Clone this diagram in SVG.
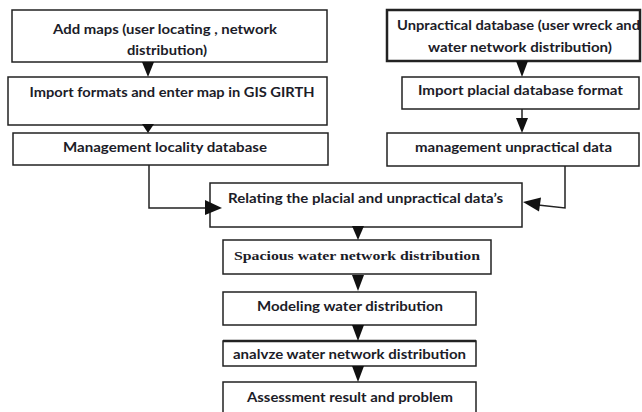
<svg xmlns="http://www.w3.org/2000/svg" width="642" height="412" viewBox="0 0 642 412">
<style>
.box{fill:#fff;stroke:#222;stroke-width:1.5}
.thick{stroke-width:2.5}
.t{font-family:Lato,"Liberation Sans",sans-serif;font-weight:bold;font-size:12.5px;fill:#1c1c28;text-anchor:middle}
.s{font-family:"Liberation Serif",serif;font-weight:bold;font-size:13px;fill:#1c1c28;text-anchor:middle}
.ln{fill:none;stroke:#222;stroke-width:1.5}
.ah{fill:#111;stroke:none}
</style>
<rect width="642" height="412" fill="#fff"/>
<g id="n1"><rect class="box" x="12" y="10" width="315" height="52"/>
<text class="t" x="165" y="34" textLength="224" lengthAdjust="spacingAndGlyphs">Add maps (user locating , network</text>
<text class="t" x="167" y="55" textLength="80" lengthAdjust="spacingAndGlyphs">distribution)</text></g>
<g id="n2"><rect class="box" x="8" y="77" width="319" height="48"/>
<text class="t" x="172" y="97" textLength="285" lengthAdjust="spacingAndGlyphs">Import formats and enter map in GIS GIRTH</text></g>
<g id="n3"><rect class="box" x="13" y="133" width="315" height="32"/>
<text class="t" x="165" y="152" textLength="204" lengthAdjust="spacingAndGlyphs">Management locality database</text></g>
<g id="r1"><rect class="box thick" x="387" y="10" width="253" height="51"/>
<text class="t" x="518.5" y="30" textLength="243" lengthAdjust="spacingAndGlyphs">Unpractical database (user wreck and</text>
<text class="t" x="520" y="52" textLength="184" lengthAdjust="spacingAndGlyphs">water network distribution)</text></g>
<g id="r2"><rect class="box" x="402" y="77" width="237" height="32"/>
<text class="t" x="520.5" y="95" textLength="205" lengthAdjust="spacingAndGlyphs">Import placial database format</text></g>
<g id="r3"><rect class="box" x="387" y="133" width="252" height="33"/>
<text class="t" x="513.5" y="152" textLength="197" lengthAdjust="spacingAndGlyphs">management unpractical data</text></g>
<g id="relate"><rect class="box" x="210" y="183" width="312" height="44"/>
<text class="t" x="365.5" y="203" textLength="275" lengthAdjust="spacingAndGlyphs">Relating the placial and unpractical data’s</text></g>
<g id="spacious"><rect class="box" x="223" y="240" width="268" height="34"/>
<text class="s" x="357" y="260" textLength="246" lengthAdjust="spacingAndGlyphs">Spacious water network distribution</text></g>
<g id="model"><rect class="box" x="223" y="292" width="253" height="33"/>
<text class="t" x="350" y="311" textLength="186" lengthAdjust="spacingAndGlyphs">Modeling water distribution</text></g>
<g id="analyze"><rect class="box" x="223" y="341" width="253" height="25"/>
<line x1="223" y1="341" x2="476" y2="341" stroke="#222" stroke-width="2.5"/>
<text class="t" x="349.5" y="359" textLength="233" lengthAdjust="spacingAndGlyphs">analvze water network distribution</text></g>
<g id="assess"><rect class="box" x="223" y="382" width="253" height="34"/>
<text class="t" x="350" y="402" textLength="206" lengthAdjust="spacingAndGlyphs">Assessment result and problem</text></g>
<g id="connectors">
<polygon class="ah" points="142,62 154,62 148,77"/>
<polygon class="ah" points="142,124 154,124 148,133"/>
<polygon class="ah" points="516,61 528,61 522,77"/>
<line class="ln" x1="522" y1="109" x2="522" y2="119"/>
<polygon class="ah" points="516,118 528,118 522,133"/>
<polyline class="ln" points="149,165 149,208 206,208"/>
<polygon class="ah" points="205,200 222,208 205,215"/>
<polyline class="ln" points="565,166 565,208 538,205"/>
<polygon class="ah" points="523,202 541,197.5 539,211.5"/>
<polygon class="ah" points="352,226 364,226 358,240"/>
<polygon class="ah" points="352,275 364,275 358,291"/>
<polygon class="ah" points="352,325 364,325 358,341"/>
<polygon class="ah" points="352,366 364,366 358,382"/>
</g>
</svg>
